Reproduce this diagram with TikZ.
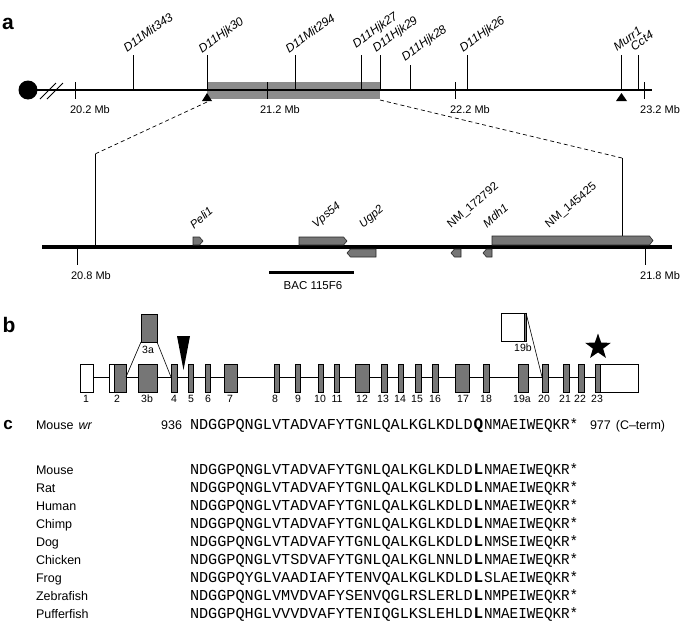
\documentclass[tikz,border=0pt]{standalone}
\usepackage{fontspec}
\setmainfont{Liberation Sans}
\setmonofont{Liberation Mono}
\usepackage{graphicx}
\usetikzlibrary{shapes.geometric}
\definecolor{exgray}{HTML}{767676}
\definecolor{boxgray}{HTML}{8C8C8C}
\newcommand\fs[1]{\fontsize{#1}{#1}\selectfont}
\newcommand\mygeneR[4]{\filldraw[gene] (#1,#3) -- ({#2-3.5},#3) -- (#2,{(#3+#4)/2}) -- ({#2-3.5},#4) -- (#1,#4) -- cycle;}
\newcommand\mygeneL[4]{\filldraw[gene] (#2,#3) -- ({#1+3.5},#3) -- (#1,{(#3+#4)/2}) -- ({#1+3.5},#4) -- (#2,#4) -- cycle;}
\begin{document}
\begin{tikzpicture}[x=1pt,y=-1pt,
  every node/.style={inner sep=0pt, outer sep=0pt},
  marker/.style={font=\fs{12}\itshape, rotate=35, anchor=base west},
  genelab/.style={font=\fs{11.5}\itshape, rotate=40, anchor=base west},
  mb/.style={font=\fs{11}},
  panel/.style={font=\fs{21}\bfseries},
  exon/.style={draw=black, line width=0.6pt, fill=exgray},
  wexon/.style={draw=black, line width=0.6pt, fill=white},
  gene/.style={draw=black!85, line width=0.6pt, fill=exgray},
  exnum/.style={font=\fs{10.5}},
  sp/.style={font=\fs{12.5}, anchor=base west},
  seqA/.style={font=\ttfamily\fs{15.2}, anchor=base west},
  aa/.style={font=\ttfamily\bfseries\fs{16}, anchor=base},
]
\useasboundingbox (0,0) rectangle (685,621);

% ---------------- panel a ----------------
\node[panel] (pa) at (8,24) {a};
\fill[boxgray] (207,82) rectangle (380,99);
\fill (28,90) circle (9.5);
\draw[line width=1.6pt] (28,90) -- (652,90);
\draw[line width=0.9pt] (40,99) -- (56,83) (47,99) -- (63,83);
\foreach \x in {75,267,455,644} \draw[line width=0.9pt] (\x,82) -- (\x,99);
\node[mb] (mb1) at (90,110) {20.2 Mb};
\node[mb] (mb2) at (280,110) {21.2 Mb};
\node[mb] (mb3) at (470,110) {22.2 Mb};
\node[mb] (mb4) at (660,110) {23.2 Mb};
\foreach \x/\t/\lx/\ly/\n in {133/55/127/52/D11Mit343, 207/55/202/53/D11Hjk30, 295/55/289/53/D11Mit294,
   361/55/356/48/D11Hjk27, 380/55/376/52/D11Hjk29, 410/65/405/61/D11Hjk28, 467/55/463/52/D11Hjk26,
   621/55/617/51/Murr1, 638/55/634/51/Cct4}{
  \draw[line width=0.8pt] (\x,\t) -- (\x,90);
  \node[marker] (m\n) at (\lx,\ly) {\n};
}
\fill (202,101) -- (212,101) -- (207,93) -- cycle;
\fill (616,101) -- (627,101) -- (621.5,93) -- cycle;
\coordinate (dl1) at (207,102);
\coordinate (dl2) at (95,154);
\coordinate (dr1) at (380,100);
\coordinate (dr2) at (622,158);
\draw[line width=0.7pt, dash pattern=on 4pt off 3pt] (dl1) -- (dl2);
\draw[line width=0.7pt, dash pattern=on 4pt off 3pt] (dr1) -- (dr2);
\draw[line width=0.7pt] (dl2) -- (95,247);
\draw[line width=0.7pt] (dr2) -- (622,237);

% lower map
\draw[line width=4pt] (42,247) -- (672,247);
\draw[line width=0.8pt] (77,247) -- (77,265);
\draw[line width=0.8pt] (645,247) -- (645,265);
\node[mb] (mb5) at (91,276) {20.8 Mb};
\node[mb] (mb6) at (660,276) {21.8 Mb};
\draw[line width=3pt] (269,272) -- (354,272);
\node[font=\fs{11.5}] (bac) at (313,286) {BAC 115F6};
\mygeneR{193}{203}{237}{245}
\mygeneR{299}{347}{237}{245}
\mygeneL{347}{376}{249}{257}
\mygeneL{451}{461}{249}{257}
\mygeneL{483}{492}{249}{257}
\mygeneR{492}{653}{236}{245}
\node[genelab] (gPeli) at (194,229) {Peli1};
\node[genelab] (gVps) at (316,228) {Vps54};
\node[genelab] (gUgp) at (363,228) {Ugp2};
\node[genelab, font=\fs{11.5}\upshape] (gNM1) at (451,228) {NM\_172792};
\node[genelab] (gMdh) at (487,228) {Mdh1};
\node[genelab, font=\fs{11.5}\upshape] (gNM2) at (549,228) {NM\_145425};

% ---------------- panel b ----------------
\node[panel] (pb) at (9,325) {b};
\draw[line width=0.7pt] (93,377) -- (595,377);
\filldraw[wexon] (80,364) rectangle (93,392);
\filldraw[wexon] (109,364) rectangle (114,392);
\filldraw[wexon] (600,364) rectangle (638,392);
\foreach \a/\b in {114/126, 138/157, 171/177, 188/193, 205/210, 224/237, 274/279, 295/300,
   318/323, 334/339, 355/369, 381/387, 398/403, 415/421, 432/438, 455/469, 483/489,
   518/528, 542/548, 563/569, 578/584, 595/600}
  \filldraw[exon] (\a,364) rectangle (\b,392);
\filldraw[exon] (141,314) rectangle (157,342);
\draw[line width=0.6pt] (126,377) -- (141,342) (157,342) -- (171,377);
\filldraw[wexon] (501,313) rectangle (524,341);
\filldraw[exon] (524,313) rectangle (526,341);
\draw[line width=0.6pt] (526,313) -- (542,377);
\fill (177,336) -- (190,336) -- (183.5,370) -- cycle;
\node[star, star points=5, star point ratio=2.5, fill=black, minimum size=27pt] (star) at (598,347) {};
\node[exnum] (l3a) at (148,350) {3a};
\node[exnum] (l19b) at (523,348) {19b};
\foreach \x/\t in {86/1, 117/2, 147/3b, 174/4, 191/5, 208/6, 230/7, 275/8, 298/9, 320/10, 337/11,
   362/12, 383/13, 400/14, 417/15, 435/16, 463/17, 486/18, 522/19a, 544/20, 565/21, 580/22, 597/23}
  \node[exnum] (e\t) at (\x,399) {\t};

% ---------------- panel c ----------------
\node[panel, font=\fs{17}\bfseries] (pc) at (8,425) {c};
\node[sp] (lwr) at (36,429.5) {Mouse\hspace{5pt}\textit{wr}};
\node[sp, anchor=base east] (n936) at (182,429.5) {936};
\node[seqA] (swr) at (190,429.5) {NDGGPQNGLVTADVAFYTGNLQALKGLKDLD};
\node[aa] (awr) at (478.5,429.5) {Q};
\node[seqA] (swrb) at (484,429.5) {\scalebox{0.94}[1]{NMAEIWEQKR*}};
\node[sp] (n977) at (590,429.5) {977\hspace{5pt}(C--term)};
\foreach \i/\n/\sa/\b/\sb in {0/Mouse/NDGGPQNGLVTADVAFYTGNLQALKGLKDLD/L/NMAEIWEQKR*,
   1/Rat/NDGGPQNGLVTADVAFYTGNLQALKGLKDLD/L/NMAEIWEQKR*,
   2/Human/NDGGPQNGLVTADVAFYTGNLQALKGLKDLD/L/NMAEIWEQKR*,
   3/Chimp/NDGGPQNGLVTADVAFYTGNLQALKGLKDLD/L/NMAEIWEQKR*,
   4/Dog/NDGGPQNGLVTADVAFYTGNLQALKGLKDLD/L/NMSEIWEQKR*,
   5/Chicken/NDGGPQNGLVTSDVAFYTGNLQALKGLNNLD/L/NMAEIWEQKR*,
   6/Frog/NDGGPQYGLVAADIAFYTENVQALKGLKDLD/L/SLAEIWEQKR*,
   7/Zebrafish/NDGGPQNGLVMVDVAFYSENVQGLRSLERLD/L/NMPEIWEQKR*,
   8/Pufferfish/NDGGPQHGLVVVDVAFYTENIQGLKSLEHLD/L/NMAEIWEQKR*}{
  \pgfmathsetmacro\yy{474.5+18*\i}
  \node[sp] (sp\i) at (36,\yy) {\n};
  \node[seqA] (sa\i) at (190,\yy) {\sa};
  \node[aa] (aa\i) at (478.5,\yy) {\b};
  \node[seqA] (sb\i) at (484,\yy) {\scalebox{0.94}[1]{\sb}};
}
\end{tikzpicture}
\end{document}
